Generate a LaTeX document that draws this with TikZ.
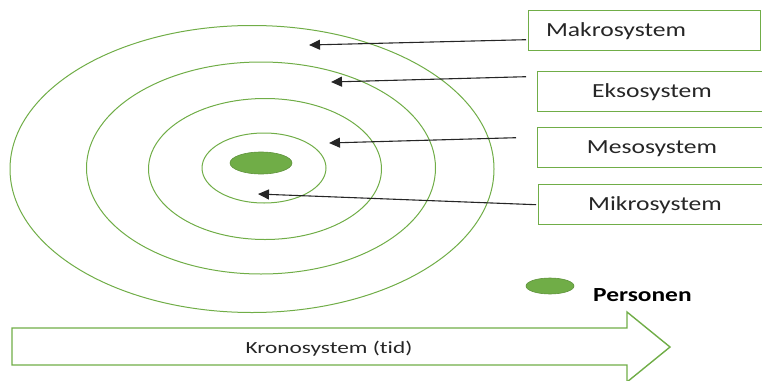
\documentclass[tikz,border=0pt]{standalone}
\usepackage{fontspec}
\setmainfont{Carlito}[Ligatures=NoCommon]
\usetikzlibrary{shapes.geometric,arrows.meta}
\definecolor{ogreen}{RGB}{112,173,71}
\newcommand{\widetext}[2]{\scalebox{#1}[1]{#2}}
\tikzset{
  ring/.style={draw=ogreen, line width=1pt, ellipse, inner sep=0pt},
  person/.style={fill=ogreen, draw=ogreen!85!black, line width=0.6pt, ellipse, inner sep=0pt},
  labelbox/.style={draw=ogreen, line width=1.4pt, minimum width=232pt, minimum height=40pt, inner sep=0pt},
  pointer/.style={draw=black!85, line width=1.1pt, -{Triangle[length=11pt,width=10pt]}},
  boxtext/.style={font=\fontsize{20}{22}\selectfont, text=black!85}
}
\begin{document}
\begin{tikzpicture}[x=1pt,y=-1pt]
  \useasboundingbox (0,0) rectangle (762,380);

  % concentric system rings
  \node[ring, minimum width=484pt, minimum height=287pt] (makroring) at (252,169) {};
  \node[ring, minimum width=349pt, minimum height=212pt] (eksoring) at (261,168) {};
  \node[ring, minimum width=233pt, minimum height=141pt] (mesoring) at (265,169) {};
  \node[ring, minimum width=124pt, minimum height=70pt] (mikroring) at (264,168) {};
  \node[person, minimum width=62pt, minimum height=22pt] (person) at (261,163) {};

  % label boxes
  \node[labelbox, anchor=north west] (mk) at (528,10) {};
  \node[boxtext] (mktext) at (616,31) {\widetext{1.28}{Makrosystem}};
  \node[labelbox, anchor=north west] (ek) at (537,71) {};
  \node[boxtext] (ektext) at (652,92) {\widetext{1.28}{Eksosystem}};
  \node[labelbox, anchor=north west] (me) at (537,127) {};
  \node[boxtext] (metext) at (652,149) {\widetext{1.28}{Mesosystem}};
  \node[labelbox, anchor=north west] (mi) at (538,184) {};
  \node[boxtext] (mitext) at (655,205) {\widetext{1.28}{Mikrosystem}};

  % pointer tips inside the rings
  \coordinate (mktip) at (309,45);
  \coordinate (ektip) at (331,82);
  \coordinate (metip) at (329,143);
  \coordinate (mitip) at (258,194);

  \draw[pointer] ([xshift=-2pt,yshift=-9pt]mk.west) -- (mktip);
  \draw[pointer] ([xshift=-11pt,yshift=15pt]ek.west) -- (ektip);
  \draw[pointer] ([xshift=-21pt,yshift=10pt]me.west) -- (metip);
  \draw[pointer] ([xshift=-2pt]mi.west) -- (mitip);

  % legend
  \node[person, minimum width=48pt, minimum height=16pt] (legend) at (550,286) {};
  \node[font=\fontsize{20}{22}\selectfont\bfseries, anchor=west, inner sep=0pt] (legendtext) at (593,295) {\widetext{1.27}{Personen}};

  % time arrow
  \draw[ogreen, line width=1.4pt, line join=miter]
    (12,328) -- (627,328) -- (627,312) -- (670,347) -- (627,382) -- (627,365) -- (12,365) -- cycle;
  \node[font=\fontsize{17}{19}\selectfont, text=black!85] (krono) at (329,349) {\widetext{1.37}{Kronosystem (tid)}};
\end{tikzpicture}
\end{document}
